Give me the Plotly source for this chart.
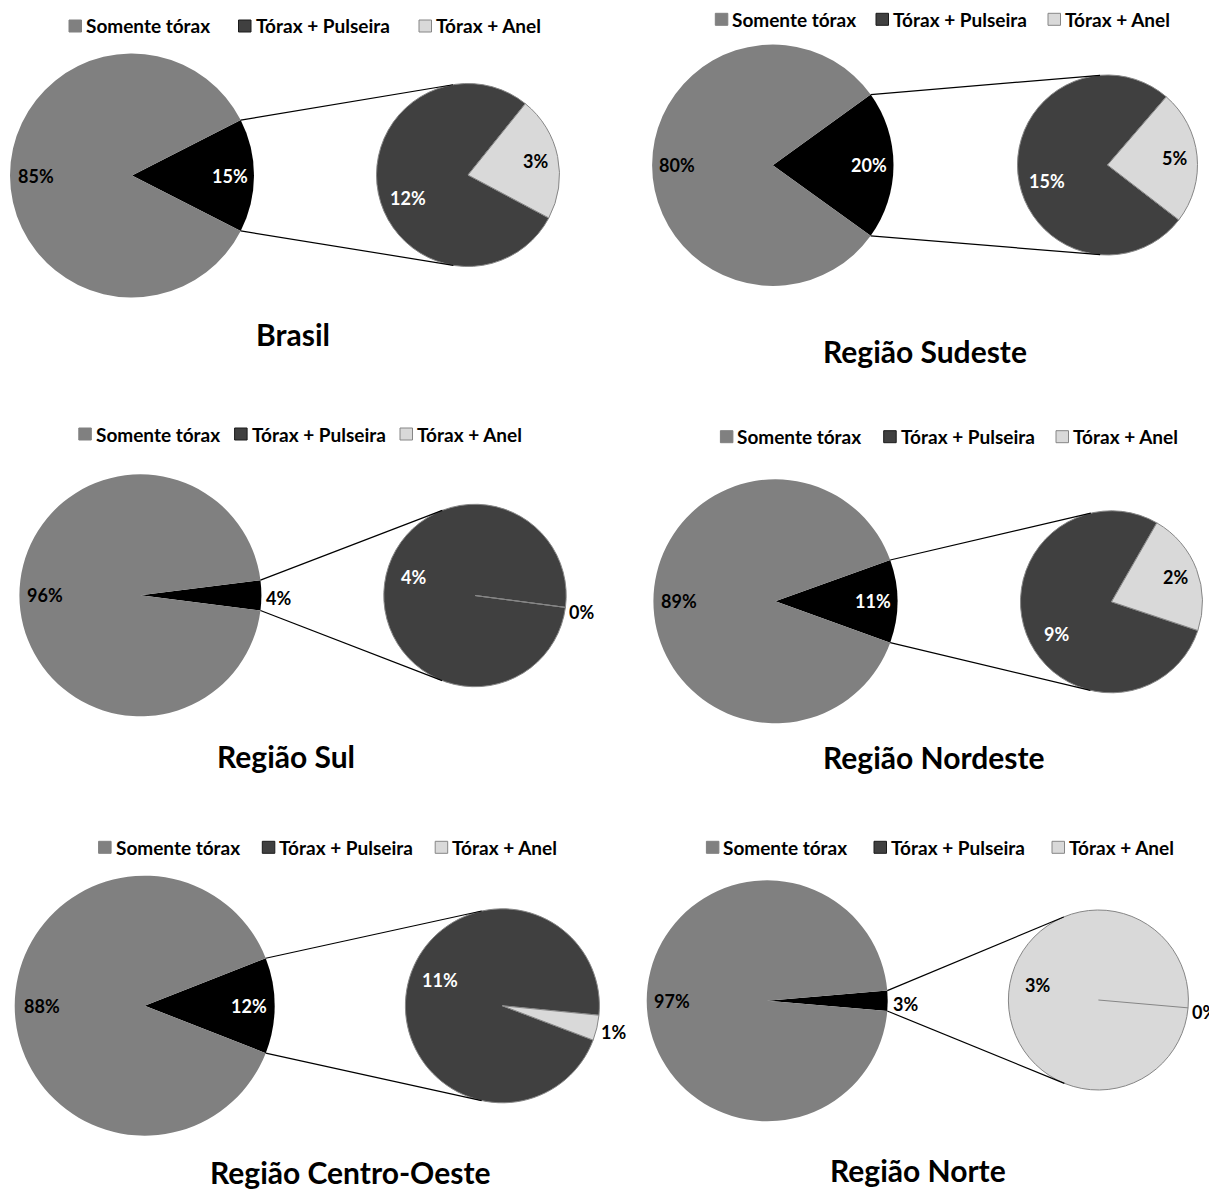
import math
import plotly.graph_objects as go

W, H = 1209, 1189

# ---- data (percent of respondents) ----
regions = ["Brasil", "Região Sudeste", "Região Sul",
           "Região Nordeste", "Região Centro-Oeste", "Região Norte"]
somente_torax = [85.0, 80.1, 96.0, 89.0, 88.1, 97.3]
torax_pulseira = [11.7, 15.1, 4.0, 8.6, 11.4, 0.0]
torax_anel = [3.3, 4.8, 0.0, 2.4, 0.5, 2.7]
series_names = ["Somente tórax", "Tórax + Pulseira", "Tórax + Anel"]

# ---- styling ----
COLOR_SOMENTE = "#808080"
COLOR_OUTROS = "#000000"
COLOR_PULSEIRA = "#404040"
COLOR_ANEL = "#d9d9d9"
EDGE = "#868686"
FONT = "Lato"
LABEL_SIZE = 18
LEGEND_SIZE = 19
TITLE_SIZE = 30

# ---- panel layout (pixels) ----
big_center = [(132, 175.5), (772.8, 165.2), (140.4, 595.3),
              (775.4, 601.3), (144.7, 1005.7), (767.2, 1000.8)]
big_radius = [122, 120.7, 121, 122, 130, 120.5]
small_center = [(468, 175), (1107.5, 165), (475, 595.5),
                (1111.5, 601.8), (502.4, 1005.8), (1098.4, 1000)]
small_radius = [91.5, 90, 91.2, 91, 97, 90]
small_rotation = [118, 127.6, 97.5, 108.4, 110.7, 95]
title_pos = [(293, 334), (925, 350.7), (285.5, 755.7),
             (933.8, 756.7), (350, 1172), (917.5, 1170)]
legend_y = [26, 19.3, 434, 436.7, 847.3, 847.3]
legend_x = [[69, 238.5, 419], [715.3, 876, 1048], [78.8, 234.6, 400],
            [720.4, 883.7, 1056], [98.6, 262.3, 435.2], [706.4, 874, 1052]]

LABEL_SPREAD = 9  # degrees a dominant-slice label is moved off the horizontal


def px(x):
    return x / W


def py(y):
    return 1 - y / H


def domain_for(cx, cy, r):
    return dict(x=[px(cx - r), px(cx + r)], y=[py(cy + r), py(cy - r)])


def polar(cx, cy, r, ang):
    """Point at math angle `ang` (deg, ccw from east) on a circle, screen y down."""
    a = math.radians(ang)
    return cx + r * math.cos(a), cy - r * math.sin(a)


def pct(v):
    return f"{math.floor(v + 0.5):.0f}%"


fig = go.Figure()
shapes = []
annotations = []


def add_text(x, y, text, size, color="black", xanchor="center", yshift=0):
    annotations.append(dict(
        x=px(x), y=py(y), xref="paper", yref="paper", text=text,
        showarrow=False, xanchor=xanchor, yanchor="middle", yshift=yshift,
        font=dict(family=FONT, size=size, color=color, weight="bold")))


def add_line(x0, y0, x1, y1, color, width):
    shapes.append(dict(type="line", xref="paper", yref="paper",
                       x0=px(x0), y0=py(y0), x1=px(x1), y1=py(y1),
                       line=dict(color=color, width=width), layer="above"))


for i, region in enumerate(regions):
    outros = torax_pulseira[i] + torax_anel[i]
    total = somente_torax[i] + outros
    bx, by = big_center[i]
    br = big_radius[i]
    sx, sy = small_center[i]
    sr = small_radius[i]
    half = 180.0 * outros / total

    # main pie: "Somente tórax" vs. the combined second-level share
    fig.add_trace(go.Pie(
        values=[outros, somente_torax[i]],
        labels=["Tórax + acessório", series_names[0]],
        marker=dict(colors=[COLOR_OUTROS, COLOR_SOMENTE], line=dict(width=0)),
        sort=False, direction="clockwise", rotation=90 - half,
        domain=domain_for(bx, by, br), textinfo="none",
        showlegend=False, name=region))

    # secondary pie: breakdown of the combined share
    rot = small_rotation[i]
    fig.add_trace(go.Pie(
        values=[torax_pulseira[i], torax_anel[i]],
        labels=series_names[1:],
        marker=dict(colors=[COLOR_PULSEIRA, COLOR_ANEL],
                    line=dict(color=EDGE, width=1)),
        sort=False, direction="clockwise", rotation=rot,
        domain=domain_for(sx, sy, sr), textinfo="none",
        showlegend=False, name=region))

    # connector lines: tangents from the slice corners to the secondary pie
    for sgn in (1, -1):
        vx, vy = polar(bx, by, br, sgn * half)
        dx, dy = vx - sx, sy - vy
        d = math.hypot(dx, dy)
        phi = math.degrees(math.atan2(dy, dx))
        t = phi - sgn * math.degrees(math.acos(sr / d))
        tx, ty = polar(sx, sy, sr, t)
        add_line(vx, vy, tx, ty, "black", 1.2)

    # main pie labels
    gx, gy = polar(bx, by, 0.79 * br, 180)
    add_text(gx, gy, pct(somente_torax[i]), LABEL_SIZE)
    if outros / total >= 0.05:
        ox, oy = polar(bx, by, 0.80 * br, 0)
        add_text(ox, oy, pct(outros), LABEL_SIZE, color="white")
    else:
        add_text(bx + br + 3, by, pct(outros), LABEL_SIZE, xanchor="left", yshift=-3)

    # secondary pie labels (and outline of empty slices)
    start = rot
    for v, inside_color in ((torax_pulseira[i], "white"), (torax_anel[i], "black")):
        share = v / outros
        span = 360.0 * share
        ang = (90 - (start + span / 2)) % 360
        if v == 0:
            ex, ey = polar(sx, sy, sr, ang)
            add_line(sx, sy, ex, ey, EDGE, 1)
        if share >= 0.05:
            if share > 0.5:
                ref = 180 if 90 < ang < 270 else (360 if ang >= 270 else 0)
                delta = ang - ref
                ang = ref + delta + math.copysign(LABEL_SPREAD, delta)
            frac = 0.70 if share > 0.5 else 0.75
            lx, ly = polar(sx, sy, frac * sr, ang)
            add_text(lx, ly, pct(v), LABEL_SIZE, color=inside_color)
        else:
            lx, ly = polar(sx, sy, sr + 2, ang)
            add_text(lx, ly, pct(v), LABEL_SIZE, xanchor="left", yshift=-4)
        start += span

    # panel legend
    yc = legend_y[i]
    for name, x0, fill, edge in zip(series_names, legend_x[i],
                                    [COLOR_SOMENTE, COLOR_PULSEIRA, COLOR_ANEL],
                                    [COLOR_SOMENTE, "#1a1a1a", EDGE]):
        shapes.append(dict(type="rect", xref="paper", yref="paper",
                           x0=px(x0), x1=px(x0 + 12.5), y0=py(yc + 6), y1=py(yc - 6),
                           fillcolor=fill, line=dict(color=edge, width=1)))
        add_text(x0 + 15, yc, name, LEGEND_SIZE, xanchor="left")

    # panel title
    tx, ty = title_pos[i]
    add_text(tx, ty, region, TITLE_SIZE)

fig.update_layout(
    width=W, height=H, margin=dict(l=0, r=0, t=0, b=0),
    paper_bgcolor="white", plot_bgcolor="white", showlegend=False,
    shapes=shapes, annotations=annotations,
    font=dict(family=FONT))

fig.write_html("out.html")
